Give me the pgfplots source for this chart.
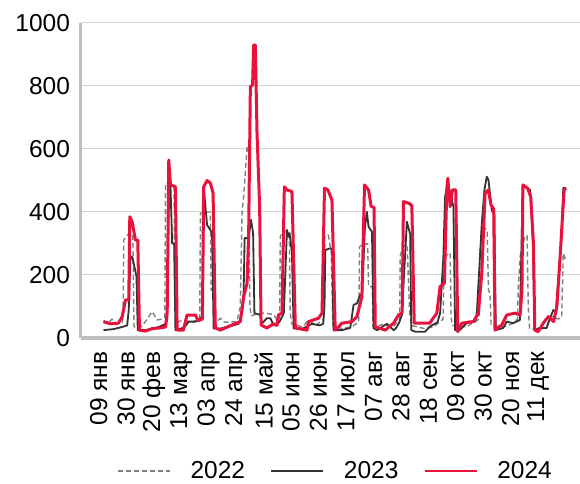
\documentclass[border=0pt]{standalone}
\usepackage{fontspec}
\setmainfont{Liberation Sans}
\usepackage{pgfplots}
\pgfplotsset{compat=1.18}

\definecolor{c22}{HTML}{808080}
\definecolor{c23}{HTML}{333333}
\definecolor{c24}{HTML}{E8123C}
\definecolor{axgray}{HTML}{BFBFBF}
\definecolor{gridgray}{HTML}{D4D4D4}

\newcommand{\bigfont}{\fontsize{24.5bp}{28bp}\selectfont}

\begin{document}
\begin{tikzpicture}
\useasboundingbox (0,0) rectangle (580bp,484bp);
\begin{axis}[
    at={(80.5bp,146bp)}, anchor=south west,
    scale only axis, width=499.5bp, height=315bp,
    xmin=-5, xmax=377, ymin=0, ymax=1000,
    axis x line*=bottom, axis y line*=left,
    axis line style={-, draw=axgray, line width=3.2bp},
    ymajorgrids, grid style={draw=gridgray, line width=1bp},
    ytick={0,200,400,600,800,1000},
    xtick={9,30,51,72,93,114,135,156,177,198,219,240,261,282,303,324,345},
    xticklabels={09 янв,30 янв,20 фев,13 мар,03 апр,24 апр,15 май,05 июн,26 июн,17 июл,07 авг,28 авг,18 сен,09 окт,30 окт,20 ноя,11 дек},
    major tick length=0pt,
    tick style={draw=none},
    ticklabel style={font=\bigfont},
    /pgf/number format/assume math mode=true,
    /pgf/number format/1000 sep={},
    yticklabel style={xshift=-7bp},
    xticklabel style={rotate=90, anchor=east, xshift=-10bp},
    legend style={at={(0.5,-0.422)}, anchor=center, xshift=4bp, legend columns=3,
        draw=none, fill=none, font=\bigfont, nodes={inner sep=0pt},
        /tikz/every even column/.append style={column sep=25bp}},
    legend image code/.code={\draw[#1, line width=2.8bp] (0bp,0bp) -- (52bp,0bp);
        \node[draw=none, fill=none, inner sep=0pt] at (72bp,0bp) {};},
    line join=round,
]
% 2022
\addplot[c22, line width=1.4bp, dash pattern=on 5bp off 3bp] coordinates {
(12.6,55) (16,45) (19,60) (22,45) (26.9,50) (27.5,60) (28.1,311) (30.7,327) (33.2,333) (35.0,330) (35.9,36) (40,30)
(44.7,52) (49.8,84) (53.6,57) (57,60) (59.5,65) (60,491) (65,486) (66.5,480) (67.3,100) (68.4,50)
(73.7,57) (80,50) (84.2,57) (86.2,60) (86.7,396) (90,400) (94.3,400) (94.9,152) (96.8,152) (97.0,57)
(99.4,52) (102,63) (105,50) (114.7,52) (117.2,99) (118.6,406) (119.8,449) (122.4,607) (123.6,607) (124.5,100) (125.6,70)
(128.7,75) (135,79) (142.7,75) (145.3,57) (147.3,60) (147.8,322) (149.1,333) (153,340) (154.7,335) (155.4,78) (156.5,45)
(165,35) (169.2,57) (175,40) (181,60) (181.8,322) (184.5,327) (186.8,270) (187.9,40)
(195,30) (202,35) (207.8,50) (208.4,290) (210.4,295) (214.6,300) (215.3,163) (218.1,163) (218.6,36)
(226.7,43) (234,35) (239.1,60) (239.5,260) (241.8,292) (244.8,295) (246.7,80) (247.9,40)
(258,30) (265,35) (272.3,60) (273.1,250) (275.4,265) (277.7,270) (278.4,68) (279.2,40)
(290,35) (299.8,60) (300.6,279) (303.6,353) (306,340) (307,152) (308.2,140) (309,40)
(318,35) (325,45) (329.2,60) (329.8,160) (331.1,258) (334.9,322) (336.5,325) (337.5,89) (338.4,30)
(343.9,25) (351.5,33) (354.1,68) (356.6,68) (360,60) (363,65) (364.2,269) (366,248)
};
% 2023
\addplot[c23, line width=1.8bp] coordinates {
(12.6,25) (20,28) (26.9,35) (30.7,40) (31.9,89) (33.2,258) (34.5,258) (35.7,237) (37.8,195) (38.8,25)
(45,25) (55,35) (60,45) (61.3,60) (62.5,486) (63.8,486) (65.1,300) (66.6,300) (67.6,25)
(72,30) (75,36) (77.7,52) (83,52) (85.4,57) (88.5,70) (89.2,480) (91.8,359) (94.3,343) (95.6,333) (96.8,30)
(102,30) (110,38) (115.9,45) (118.6,80) (119.8,150) (120.5,317) (123.6,317) (125.4,375) (127,333) (128,79) (132.5,73) (133.5,45)
(137.6,63) (140.2,63) (142.7,40) (147,50) (150.5,79) (152.9,343) (154.1,322) (154.9,333) (156.7,270) (158,30)
(165,30) (172,45) (178,40) (180.6,45) (181.6,100) (182.2,279) (186,285) (187.5,280) (188.5,25)
(195,25) (201.3,32) (203.8,105) (206.4,110) (208.9,136) (210.4,140) (212.5,350) (214,401) (215.3,353) (217.9,337) (219.1,31)
(222,25) (229.3,45) (234.4,25) (236,30) (238.5,47) (240.8,73) (244.6,369) (247.1,330) (248,25)
(251,20) (258.6,20) (262,36) (268,50) (270,78) (272.5,258) (273.8,449) (275.9,491) (277.7,460) (280.2,417) (281.5,25)
(285,25) (291.4,52) (296.8,52) (298.1,79) (301.9,364) (303.9,470) (305.7,512) (307,502) (309.5,406) (311.5,390) (312.6,25)
(318.4,32) (320.9,52) (325.8,47) (331,57) (333.3,486) (338.8,470) (339.5,440) (341,300) (342.4,25)
(346,32) (351.5,32) (354.1,63) (356.6,89) (358.5,80) (363,333) (364.2,476) (366.3,476)
};
% 2024
\addplot[c24, line width=3bp] coordinates {
(12.6,52) (17.9,45) (24,47) (26.9,68) (29.4,121) (31.9,121) (32.7,385) (34.5,369) (37.0,311) (38.8,311) (40.1,25)
(44.7,22) (50,30) (56,32) (60,35) (61.3,80) (62.5,565) (63.8,486) (67.6,480) (68.9,25)
(73.7,25) (76.5,73) (82.9,73) (85,55) (88.2,60) (89.2,480) (91.8,500) (94.3,492) (96.4,460) (98.1,32)
(102,25) (110,40) (117.2,52) (119.8,131) (122.4,174) (123.6,333) (124.9,798) (126.6,803) (127.4,930) (128.7,930) (130,650) (132,416) (133.1,41)
(137.6,32) (142.7,45) (145.3,40) (146.3,73) (149.1,79) (150.9,480) (152.9,470) (156.7,465) (159.3,32)
(168.2,25) (169.4,52) (177.1,63) (179.7,79) (181.6,476) (184.2,470) (187.3,438) (189.8,25)
(194.9,47) (202.6,52) (206.4,68) (210.2,131) (212.2,486) (215.3,470) (217.3,417) (219.5,415) (220.4,36)
(228,25) (234.4,47) (238.2,73) (241,80) (242,433) (246.6,427) (248.4,420) (250.2,47)
(262,47) (267.5,79) (270,163) (273.3,174) (275.1,470) (275.9,507) (277.7,417) (279.4,470) (282,470) (283.5,20)
(286.6,47) (295.5,52) (299.3,79) (301.9,206) (304.4,459) (306.9,470) (309,422) (311,410) (312,25)
(317.2,42) (321,73) (327.3,79) (331.2,73) (332.6,150) (333.3,486) (336.8,476) (339.3,449) (341.4,300) (342.4,25)
(345.1,20) (348.9,47) (352.8,68) (356.8,52) (359.3,99) (361.8,258) (363.9,406) (364.9,470) (366.3,476)
};
\legend{2022,2023,2024}
\end{axis}
\end{tikzpicture}
\end{document}
